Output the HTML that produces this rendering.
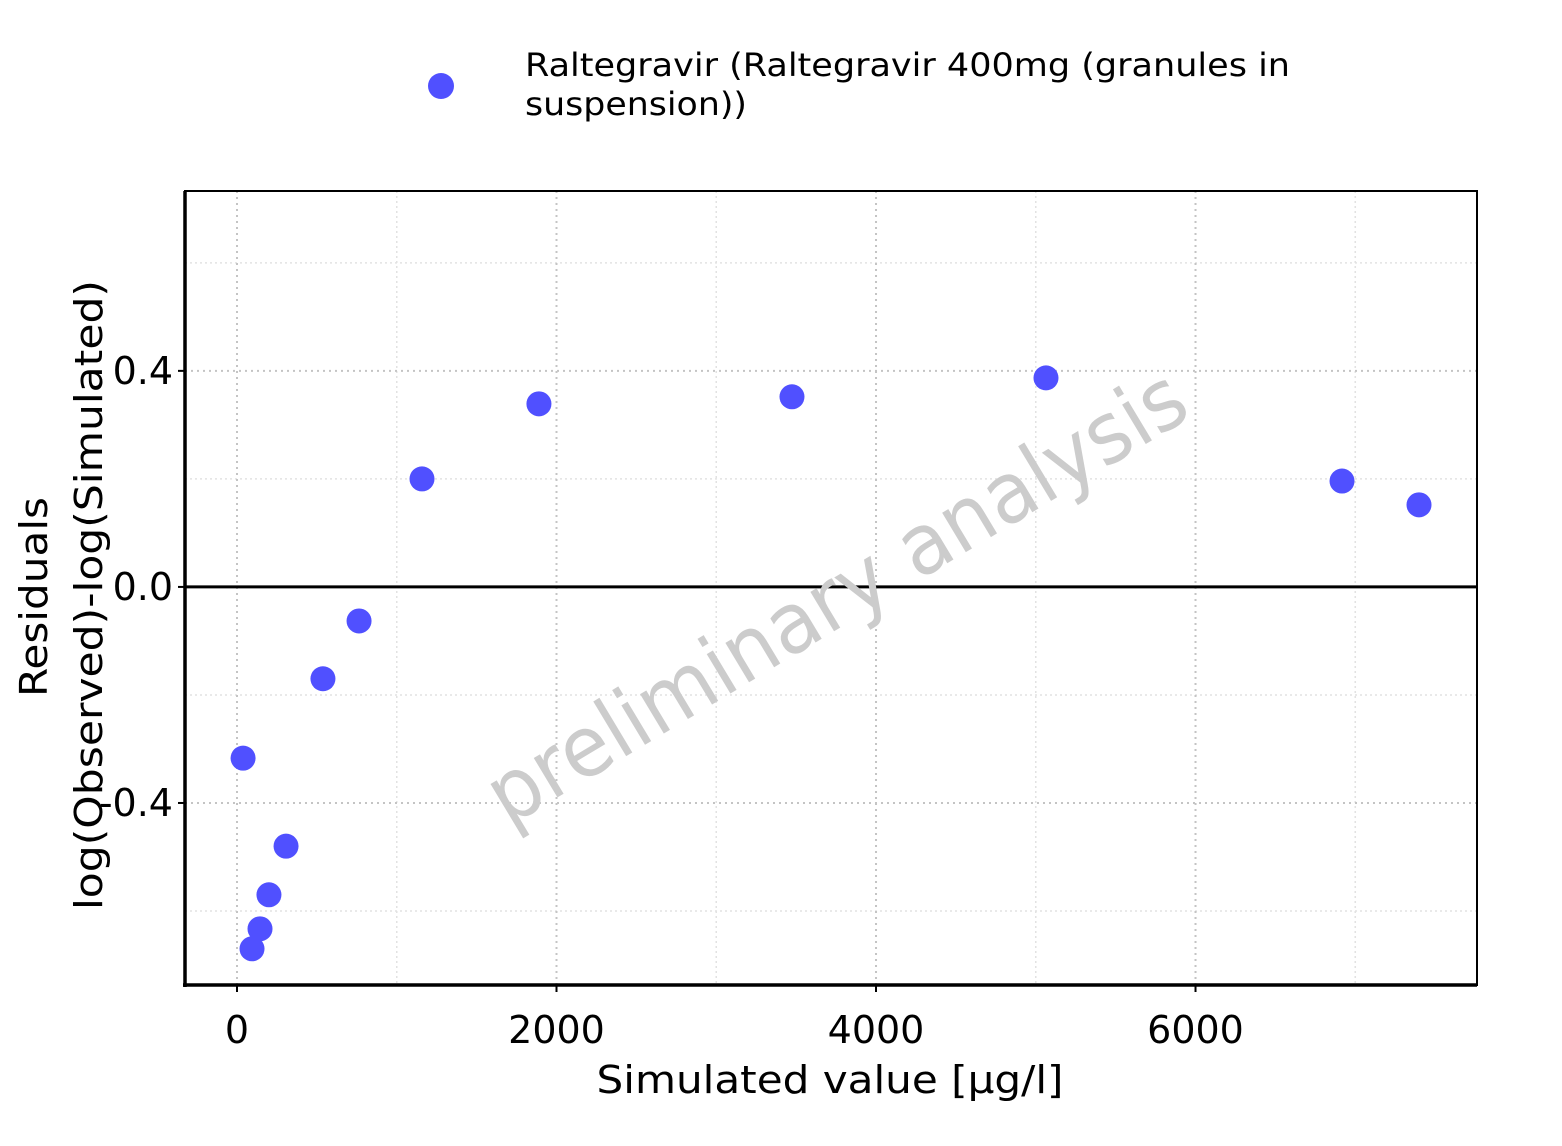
<!DOCTYPE html>
<html><head><meta charset="utf-8"><style>
body{margin:0;background:#fff;}
svg{display:block;font-family:"DejaVu Sans","Liberation Sans",sans-serif;}
</style></head><body>
<svg id="chart" width="1562" height="1146" viewBox="0 0 1562 1146">
<g>
<circle cx="441" cy="86" r="13" fill="#5050FF"/>
<text x="525" y="76" font-size="32" fill="#000" textLength="765" lengthAdjust="spacingAndGlyphs">Raltegravir (Raltegravir 400mg (granules in</text>
<text x="525" y="115" font-size="32" fill="#000" textLength="222" lengthAdjust="spacingAndGlyphs">suspension))</text>
</g>
<g id="grid"></g>
<text x="837" y="625" font-size="84" fill="#cccccc" text-anchor="middle" transform="rotate(-31 837 598)" textLength="800" lengthAdjust="spacingAndGlyphs">preliminary analysis</text>
<g id="marks"></g>
<g id="axes"></g>
<text x="830" y="1093" font-size="38" text-anchor="middle" fill="#000" textLength="467" lengthAdjust="spacingAndGlyphs">Simulated value [µg/l]</text>
<text transform="translate(47 597) rotate(-90)" font-size="38" text-anchor="middle" fill="#000" textLength="200" lengthAdjust="spacingAndGlyphs">Residuals</text>
<text transform="translate(102 595) rotate(-90)" font-size="38" text-anchor="middle" fill="#000" textLength="630" lengthAdjust="spacingAndGlyphs">log(Observed)-log(Simulated)</text>
</svg>
<script>
const xValues=[38,94,144,200,307,538,764,1158,1890,3474,5064,6917,7399];
const yValues=[-0.317,-0.670,-0.633,-0.570,-0.480,-0.170,-0.063,0.200,0.339,0.352,0.387,0.196,0.152];
const xTicks=[0,2000,4000,6000];
const xMinor=[1000,3000,5000,7000];
const yTicks=[0.4,0,-0.4];
const yTickLabels=["0.4","0.0","-0.4"];
const yMinor=[0.6,0.2,-0.2,-0.6];
const L=185,R=1477,T=191,B=985;
const xmin=-325.5,xmax=7762,ymin=-0.737,ymax=0.733;
const sx=v=>L+(v-xmin)/(xmax-xmin)*(R-L);
const sy=v=>B-(v-ymin)/(ymax-ymin)*(B-T);
const NS="http://www.w3.org/2000/svg";
function mk(parent,tag,attrs){const e=document.createElementNS(NS,tag);for(const k in attrs)e.setAttribute(k,attrs[k]);parent.appendChild(e);return e;}
const g=document.getElementById('grid'),m=document.getElementById('marks'),a=document.getElementById('axes');
xMinor.forEach(v=>{const e=mk(g,'line',{x1:sx(v),x2:sx(v),y1:T,y2:B,stroke:'#e2e2e2','stroke-width':1.5,'stroke-dasharray':'2 3'});

});
yMinor.forEach(v=>{const e=mk(g,'line',{x1:L,x2:R,y1:sy(v),y2:sy(v),stroke:'#e2e2e2','stroke-width':1.5,'stroke-dasharray':'2 3'});

});
xTicks.forEach(v=>{const e=mk(g,'line',{x1:sx(v),x2:sx(v),y1:T,y2:B,stroke:'#c4c4c4','stroke-width':2,'stroke-dasharray':'2 4'});

});
yTicks.forEach(v=>{const e=mk(g,'line',{x1:L,x2:R,y1:sy(v),y2:sy(v),stroke:'#c4c4c4','stroke-width':2,'stroke-dasharray':'2 4'});

});
const z=mk(g,'line',{x1:L,x2:R,y1:sy(0),y2:sy(0),stroke:'#000','stroke-width':3});


xValues.forEach((v,i)=>{const c=mk(m,'circle',{cx:sx(v),cy:sy(yValues[i]),r:12.5,fill:'#5050FF'});

});
const f=mk(a,'rect',{x:L,y:T,width:R-L,height:B-T,fill:'none',stroke:'#000','stroke-width':2});


const la=mk(a,'line',{x1:L,x2:L,y1:T,y2:B+2,stroke:'#000','stroke-width':3.5});


const ba=mk(a,'line',{x1:L-2,x2:R,y1:B,y2:B,stroke:'#000','stroke-width':3.5});


xTicks.forEach(v=>{const t=mk(a,'line',{x1:sx(v),x2:sx(v),y1:B,y2:B+7,stroke:'#000','stroke-width':2});


const l=mk(a,'text',{x:sx(v),y:B+58,'font-size':38,'text-anchor':'middle',fill:'#000'});l.textContent=String(v);

});
yTicks.forEach((v,i)=>{const t=mk(a,'line',{x1:L-7,x2:L,y1:sy(v),y2:sy(v),stroke:'#000','stroke-width':2});


const l=mk(a,'text',{x:L-12,y:sy(v)+13,'font-size':38,'text-anchor':'end',fill:'#000'});l.textContent=yTickLabels[i];

});
</script>
</body></html>
